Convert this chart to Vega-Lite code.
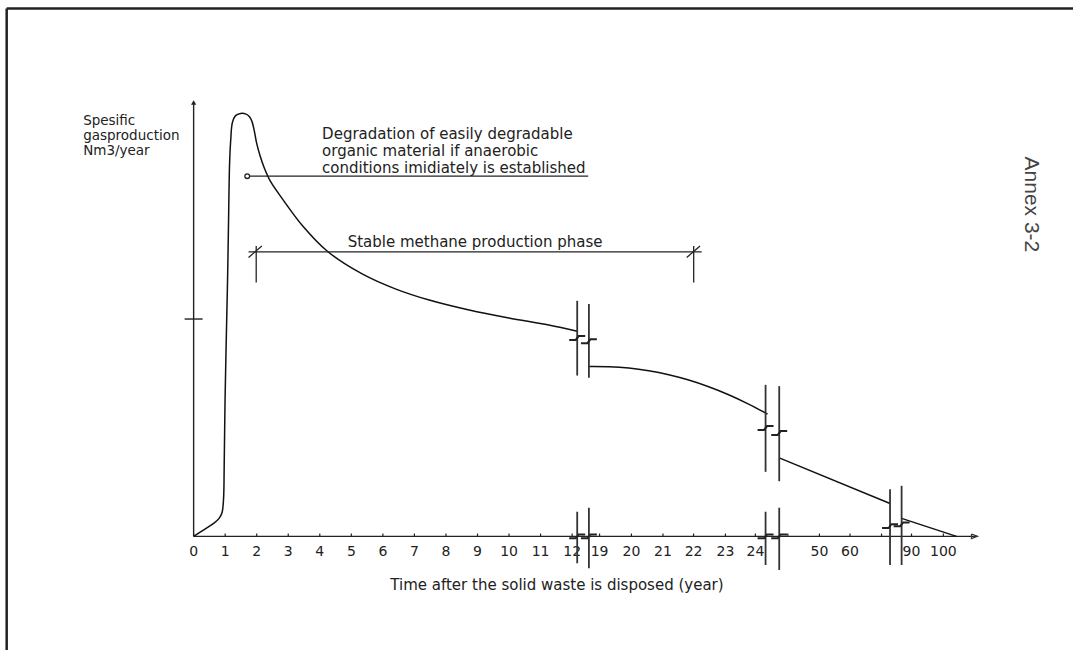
{
  "$schema": "https://vega.github.io/schema/vega-lite/v6.json",
  "width": 1075,
  "height": 652,
  "padding": 0,
  "autosize": {"type": "fit", "contains": "padding"},
  "background": "white",
  "config": {"view": {"stroke": null}, "axis": {"disable": true}},
  "datasets": {
    "frame": [
      {"x": -5.927, "y": 242.89, "x2": -5.927, "y2": -52.29},
      {"x": -5.927, "y": 242.89, "x2": 27.88, "y2": 242.89}
    ],
    "axes": [
      {"x": 0, "y": 0, "x2": 24.851, "y2": 0},
      {"x": 0, "y": 0, "x2": 0, "y2": 200.0},
      {"x": -0.285, "y": 100, "x2": 0.285, "y2": 100}
    ],
    "xarrow": [
      {"o": 1, "x": 24.661, "y": 1.06},
      {"o": 2, "x": 24.851, "y": 0},
      {"o": 3, "x": 24.661, "y": -1.06},
      {"o": 4, "x": 24.661, "y": 1.06}
    ],
    "yarrow": [{"x": 0, "y": 199.6}],
    "ticks": [
      {"x": 0, "label": "0"}, {"x": 1, "label": "1"}, {"x": 2, "label": "2"},
      {"x": 3, "label": "3"}, {"x": 4, "label": "4"}, {"x": 5, "label": "5"},
      {"x": 6, "label": "6"}, {"x": 7, "label": "7"}, {"x": 8, "label": "8"},
      {"x": 9, "label": "9"}, {"x": 10, "label": "10"}, {"x": 11, "label": "11"},
      {"x": 12, "label": "12"}, {"x": 12.87, "label": "19"}, {"x": 13.88, "label": "20"},
      {"x": 14.88, "label": "21"}, {"x": 15.85, "label": "22"}, {"x": 16.86, "label": "23"},
      {"x": 17.81, "label": "24"}, {"x": 18.84, "label": ""}, {"x": 19.84, "label": "50"},
      {"x": 20.81, "label": "60"}, {"x": 21.81, "label": ""}, {"x": 22.76, "label": "90"},
      {"x": 23.77, "label": "100"}
    ],
    "curve": [
      {"seg": 1, "x": 0, "y": 0},
      {"seg": 1, "x": 0.348, "y": 3.21},
      {"seg": 1, "x": 0.633, "y": 5.96},
      {"seg": 1, "x": 0.807, "y": 8.26},
      {"seg": 1, "x": 0.902, "y": 11.01},
      {"seg": 1, "x": 0.949, "y": 17.43},
      {"seg": 1, "x": 0.968, "y": 31.19},
      {"seg": 1, "x": 0.997, "y": 63.3},
      {"seg": 1, "x": 1.035, "y": 90.83},
      {"seg": 1, "x": 1.076, "y": 118.35},
      {"seg": 1, "x": 1.108, "y": 145.87},
      {"seg": 1, "x": 1.139, "y": 171.1},
      {"seg": 1, "x": 1.177, "y": 182.57},
      {"seg": 1, "x": 1.228, "y": 190.37},
      {"seg": 1, "x": 1.329, "y": 193.58},
      {"seg": 1, "x": 1.487, "y": 194.59},
      {"seg": 1, "x": 1.646, "y": 194.4},
      {"seg": 1, "x": 1.772, "y": 193.12},
      {"seg": 1, "x": 1.851, "y": 190.83},
      {"seg": 1, "x": 1.915, "y": 187.16},
      {"seg": 1, "x": 1.994, "y": 181.19},
      {"seg": 1, "x": 2.104, "y": 175.23},
      {"seg": 1, "x": 2.247, "y": 169.27},
      {"seg": 1, "x": 2.437, "y": 163.3},
      {"seg": 1, "x": 2.826, "y": 155.05},
      {"seg": 1, "x": 3.459, "y": 142.8},
      {"seg": 1, "x": 4.25, "y": 131.06},
      {"seg": 1, "x": 5.358, "y": 120.64},
      {"seg": 1, "x": 6.414, "y": 113.76},
      {"seg": 1, "x": 7.468, "y": 108.72},
      {"seg": 1, "x": 8.734, "y": 104.13},
      {"seg": 1, "x": 9.994, "y": 100.46},
      {"seg": 1, "x": 11.26, "y": 97.25},
      {"seg": 1, "x": 12.161, "y": 94.36},
      {"seg": 2, "x": 12.532, "y": 78.12},
      {"seg": 2, "x": 13.165, "y": 78.03},
      {"seg": 2, "x": 13.797, "y": 77.43},
      {"seg": 2, "x": 14.43, "y": 76.19},
      {"seg": 2, "x": 15.063, "y": 74.36},
      {"seg": 2, "x": 15.696, "y": 71.93},
      {"seg": 2, "x": 16.329, "y": 68.85},
      {"seg": 2, "x": 16.962, "y": 65.18},
      {"seg": 2, "x": 17.595, "y": 60.87},
      {"seg": 2, "x": 18.196, "y": 56.24},
      {"seg": 3, "x": 18.566, "y": 36.1},
      {"seg": 3, "x": 22.079, "y": 15.14},
      {"seg": 4, "x": 22.446, "y": 8.26},
      {"seg": 4, "x": 24.187, "y": 0}
    ],
    "breaks": [
      {"x": 12.161, "y": 108.39, "y2": 73.99},
      {"x": 12.161, "y": 11.33, "y2": -12.39},
      {"x": 12.532, "y": 106.88, "y2": 72.94},
      {"x": 12.532, "y": 13.17, "y2": -14.68},
      {"x": 18.133, "y": 69.72, "y2": 29.68},
      {"x": 18.133, "y": 11.33, "y2": -13.17},
      {"x": 18.566, "y": 69.13, "y2": 25.37},
      {"x": 18.566, "y": 13.17, "y2": -15.46},
      {"x": 22.079, "y": 21.7, "y2": -13.17},
      {"x": 22.446, "y": 23.26, "y2": -13.17}
    ],
    "zig": [
      {"id": "z1a", "x": 11.908, "y": 90.4}, {"id": "z1a", "x": 12.114, "y": 90.4}, {"id": "z1a", "x": 12.208, "y": 92.16}, {"id": "z1a", "x": 12.414, "y": 92.16},
      {"id": "z1b", "x": 12.279, "y": 88.89}, {"id": "z1b", "x": 12.485, "y": 88.89}, {"id": "z1b", "x": 12.579, "y": 90.65}, {"id": "z1b", "x": 12.785, "y": 90.65},
      {"id": "z2a", "x": 17.88, "y": 48.98}, {"id": "z2a", "x": 18.086, "y": 48.98}, {"id": "z2a", "x": 18.18, "y": 50.74}, {"id": "z2a", "x": 18.386, "y": 50.74},
      {"id": "z2b", "x": 18.313, "y": 46.69}, {"id": "z2b", "x": 18.519, "y": 46.69}, {"id": "z2b", "x": 18.613, "y": 48.45}, {"id": "z2b", "x": 18.819, "y": 48.45},
      {"id": "z3a", "x": 21.826, "y": 3.84}, {"id": "z3a", "x": 22.032, "y": 3.84}, {"id": "z3a", "x": 22.126, "y": 5.6}, {"id": "z3a", "x": 22.332, "y": 5.6},
      {"id": "z3b", "x": 22.193, "y": 4.62}, {"id": "z3b", "x": 22.399, "y": 4.62}, {"id": "z3b", "x": 22.493, "y": 6.38}, {"id": "z3b", "x": 22.699, "y": 6.38},
      {"id": "a1a", "x": 11.908, "y": -0.88}, {"id": "a1a", "x": 12.114, "y": -0.88}, {"id": "a1a", "x": 12.208, "y": 0.88}, {"id": "a1a", "x": 12.414, "y": 0.88},
      {"id": "a1b", "x": 12.279, "y": -0.88}, {"id": "a1b", "x": 12.485, "y": -0.88}, {"id": "a1b", "x": 12.579, "y": 0.88}, {"id": "a1b", "x": 12.785, "y": 0.88},
      {"id": "a2a", "x": 17.88, "y": -0.88}, {"id": "a2a", "x": 18.086, "y": -0.88}, {"id": "a2a", "x": 18.18, "y": 0.88}, {"id": "a2a", "x": 18.386, "y": 0.88},
      {"id": "a2b", "x": 18.313, "y": -0.88}, {"id": "a2b", "x": 18.519, "y": -0.88}, {"id": "a2b", "x": 18.613, "y": 0.88}, {"id": "a2b", "x": 18.819, "y": 0.88}
    ],
    "annot": [
      {"x": 1.772, "y": 165.73, "x2": 12.51, "y2": 165.73},
      {"x": 1.741, "y": 130.87, "x2": 16.108, "y2": 130.87},
      {"x": 1.984, "y": 133.62, "x2": 1.984, "y2": 116.83},
      {"x": 15.854, "y": 133.62, "x2": 15.854, "y2": 116.83},
      {"x": 1.741, "y": 128.3, "x2": 2.161, "y2": 133.62},
      {"x": 15.633, "y": 128.3, "x2": 16.054, "y2": 133.62}
    ],
    "circle": [{"x": 1.699, "y": 165.73}],
    "ylabel": [
      {"x": -3.503, "y": 191.06, "text": "Spesific"},
      {"x": -3.503, "y": 184.17, "text": "gasproduction"},
      {"x": -3.503, "y": 177.29, "text": "Nm3/year"}
    ],
    "leftText": [
      {"x": 4.073, "y": 185.32, "text": "Degradation of easily degradable"},
      {"x": 4.073, "y": 177.2, "text": "organic material if anaerobic"},
      {"x": 4.073, "y": 169.27, "text": "conditions imidiately is established"},
      {"x": 4.883, "y": 135.64, "text": "Stable methane production phase"}
    ],
    "xtitle": [{"x": 11.519, "y": -22.34, "text": "Time after the solid waste is disposed (year)"}],
    "annex": [{"x": 26.55, "y": 152.75, "text": "Annex 3-2"}]
  },
  "layer": [
    {
      "data": {"name": "frame"},
      "mark": {"type": "rule", "color": "#222222", "strokeWidth": 2.5},
      "encoding": {
        "x": {"field": "x", "type": "quantitative", "scale": {"domain": [-6.139, 27.88], "nice": false, "zero": false}, "axis": null},
        "y": {"field": "y", "type": "quantitative", "scale": {"domain": [-52.29, 246.79], "nice": false, "zero": false}, "axis": null},
        "x2": {"field": "x2"},
        "y2": {"field": "y2"}
      }
    },
    {
      "data": {"name": "axes"},
      "mark": {"type": "rule", "color": "#222222", "strokeWidth": 1.4},
      "encoding": {
        "x": {"field": "x", "type": "quantitative", "scale": {"domain": [-6.139, 27.88], "nice": false, "zero": false}, "axis": null},
        "y": {"field": "y", "type": "quantitative", "scale": {"domain": [-52.29, 246.79], "nice": false, "zero": false}, "axis": null},
        "x2": {"field": "x2"},
        "y2": {"field": "y2"}
      }
    },
    {
      "data": {"name": "xarrow"},
      "mark": {"type": "line", "color": "#333333", "strokeWidth": 1.2},
      "encoding": {
        "x": {"field": "x", "type": "quantitative", "scale": {"domain": [-6.139, 27.88], "nice": false, "zero": false}, "axis": null},
        "y": {"field": "y", "type": "quantitative", "scale": {"domain": [-52.29, 246.79], "nice": false, "zero": false}, "axis": null},
        "order": {"field": "o", "type": "quantitative"}
      }
    },
    {
      "data": {"name": "yarrow"},
      "mark": {"type": "point", "shape": "triangle-up", "filled": true, "color": "#222222", "size": 28, "opacity": 1},
      "encoding": {
        "x": {"field": "x", "type": "quantitative", "scale": {"domain": [-6.139, 27.88], "nice": false, "zero": false}, "axis": null},
        "y": {"field": "y", "type": "quantitative", "scale": {"domain": [-52.29, 246.79], "nice": false, "zero": false}, "axis": null}
      }
    },
    {
      "data": {"name": "ticks"},
      "mark": {"type": "rule", "color": "#222222", "strokeWidth": 1.2},
      "encoding": {
        "x": {"field": "x", "type": "quantitative", "scale": {"domain": [-6.139, 27.88], "nice": false, "zero": false}, "axis": null},
        "y": {"datum": 0, "type": "quantitative", "scale": {"domain": [-52.29, 246.79], "nice": false, "zero": false}, "axis": null},
        "y2": {"datum": 1.3}
      }
    },
    {
      "data": {"name": "ticks"},
      "mark": {"type": "text", "font": "DejaVu Sans", "fontSize": 14, "color": "#222222", "align": "center", "baseline": "middle"},
      "encoding": {
        "x": {"field": "x", "type": "quantitative", "scale": {"domain": [-6.139, 27.88], "nice": false, "zero": false}, "axis": null},
        "y": {"datum": -7.02, "type": "quantitative", "scale": {"domain": [-52.29, 246.79], "nice": false, "zero": false}, "axis": null},
        "text": {"field": "label"}
      }
    },
    {
      "data": {"name": "curve"},
      "mark": {"type": "line", "color": "#111111", "strokeWidth": 1.5, "interpolate": "catmull-rom"},
      "encoding": {
        "x": {"field": "x", "type": "quantitative", "scale": {"domain": [-6.139, 27.88], "nice": false, "zero": false}, "axis": null},
        "y": {"field": "y", "type": "quantitative", "scale": {"domain": [-52.29, 246.79], "nice": false, "zero": false}, "axis": null},
        "detail": {"field": "seg", "type": "nominal"}
      }
    },
    {
      "data": {"name": "breaks"},
      "mark": {"type": "rule", "color": "#333333", "strokeWidth": 1.8},
      "encoding": {
        "x": {"field": "x", "type": "quantitative", "scale": {"domain": [-6.139, 27.88], "nice": false, "zero": false}, "axis": null},
        "y": {"field": "y", "type": "quantitative", "scale": {"domain": [-52.29, 246.79], "nice": false, "zero": false}, "axis": null},
        "y2": {"field": "y2"}
      }
    },
    {
      "data": {"name": "zig"},
      "mark": {"type": "line", "color": "#222222", "strokeWidth": 2},
      "encoding": {
        "x": {"field": "x", "type": "quantitative", "scale": {"domain": [-6.139, 27.88], "nice": false, "zero": false}, "axis": null},
        "y": {"field": "y", "type": "quantitative", "scale": {"domain": [-52.29, 246.79], "nice": false, "zero": false}, "axis": null},
        "detail": {"field": "id", "type": "nominal"}
      }
    },
    {
      "data": {"name": "annot"},
      "mark": {"type": "rule", "color": "#222222", "strokeWidth": 1.3},
      "encoding": {
        "x": {"field": "x", "type": "quantitative", "scale": {"domain": [-6.139, 27.88], "nice": false, "zero": false}, "axis": null},
        "y": {"field": "y", "type": "quantitative", "scale": {"domain": [-52.29, 246.79], "nice": false, "zero": false}, "axis": null},
        "x2": {"field": "x2"},
        "y2": {"field": "y2"}
      }
    },
    {
      "data": {"name": "circle"},
      "mark": {"type": "point", "shape": "circle", "filled": false, "color": "#222222", "size": 22, "strokeWidth": 1.3, "opacity": 1},
      "encoding": {
        "x": {"field": "x", "type": "quantitative", "scale": {"domain": [-6.139, 27.88], "nice": false, "zero": false}, "axis": null},
        "y": {"field": "y", "type": "quantitative", "scale": {"domain": [-52.29, 246.79], "nice": false, "zero": false}, "axis": null}
      }
    },
    {
      "data": {"name": "ylabel"},
      "mark": {"type": "text", "font": "DejaVu Sans", "fontSize": 13.5, "color": "#222222", "align": "left", "baseline": "middle"},
      "encoding": {
        "x": {"field": "x", "type": "quantitative", "scale": {"domain": [-6.139, 27.88], "nice": false, "zero": false}, "axis": null},
        "y": {"field": "y", "type": "quantitative", "scale": {"domain": [-52.29, 246.79], "nice": false, "zero": false}, "axis": null},
        "text": {"field": "text"}
      }
    },
    {
      "data": {"name": "leftText"},
      "mark": {"type": "text", "font": "DejaVu Sans", "fontSize": 15, "color": "#222222", "align": "left", "baseline": "middle"},
      "encoding": {
        "x": {"field": "x", "type": "quantitative", "scale": {"domain": [-6.139, 27.88], "nice": false, "zero": false}, "axis": null},
        "y": {"field": "y", "type": "quantitative", "scale": {"domain": [-52.29, 246.79], "nice": false, "zero": false}, "axis": null},
        "text": {"field": "text"}
      }
    },
    {
      "data": {"name": "xtitle"},
      "mark": {"type": "text", "font": "DejaVu Sans", "fontSize": 15, "color": "#222222", "align": "center", "baseline": "middle"},
      "encoding": {
        "x": {"field": "x", "type": "quantitative", "scale": {"domain": [-6.139, 27.88], "nice": false, "zero": false}, "axis": null},
        "y": {"field": "y", "type": "quantitative", "scale": {"domain": [-52.29, 246.79], "nice": false, "zero": false}, "axis": null},
        "text": {"field": "text"}
      }
    },
    {
      "data": {"name": "annex"},
      "mark": {"type": "text", "font": "Liberation Sans", "fontSize": 21, "color": "#444444", "align": "center", "baseline": "middle", "angle": 90},
      "encoding": {
        "x": {"field": "x", "type": "quantitative", "scale": {"domain": [-6.139, 27.88], "nice": false, "zero": false}, "axis": null},
        "y": {"field": "y", "type": "quantitative", "scale": {"domain": [-52.29, 246.79], "nice": false, "zero": false}, "axis": null},
        "text": {"field": "text"}
      }
    }
  ]
}
